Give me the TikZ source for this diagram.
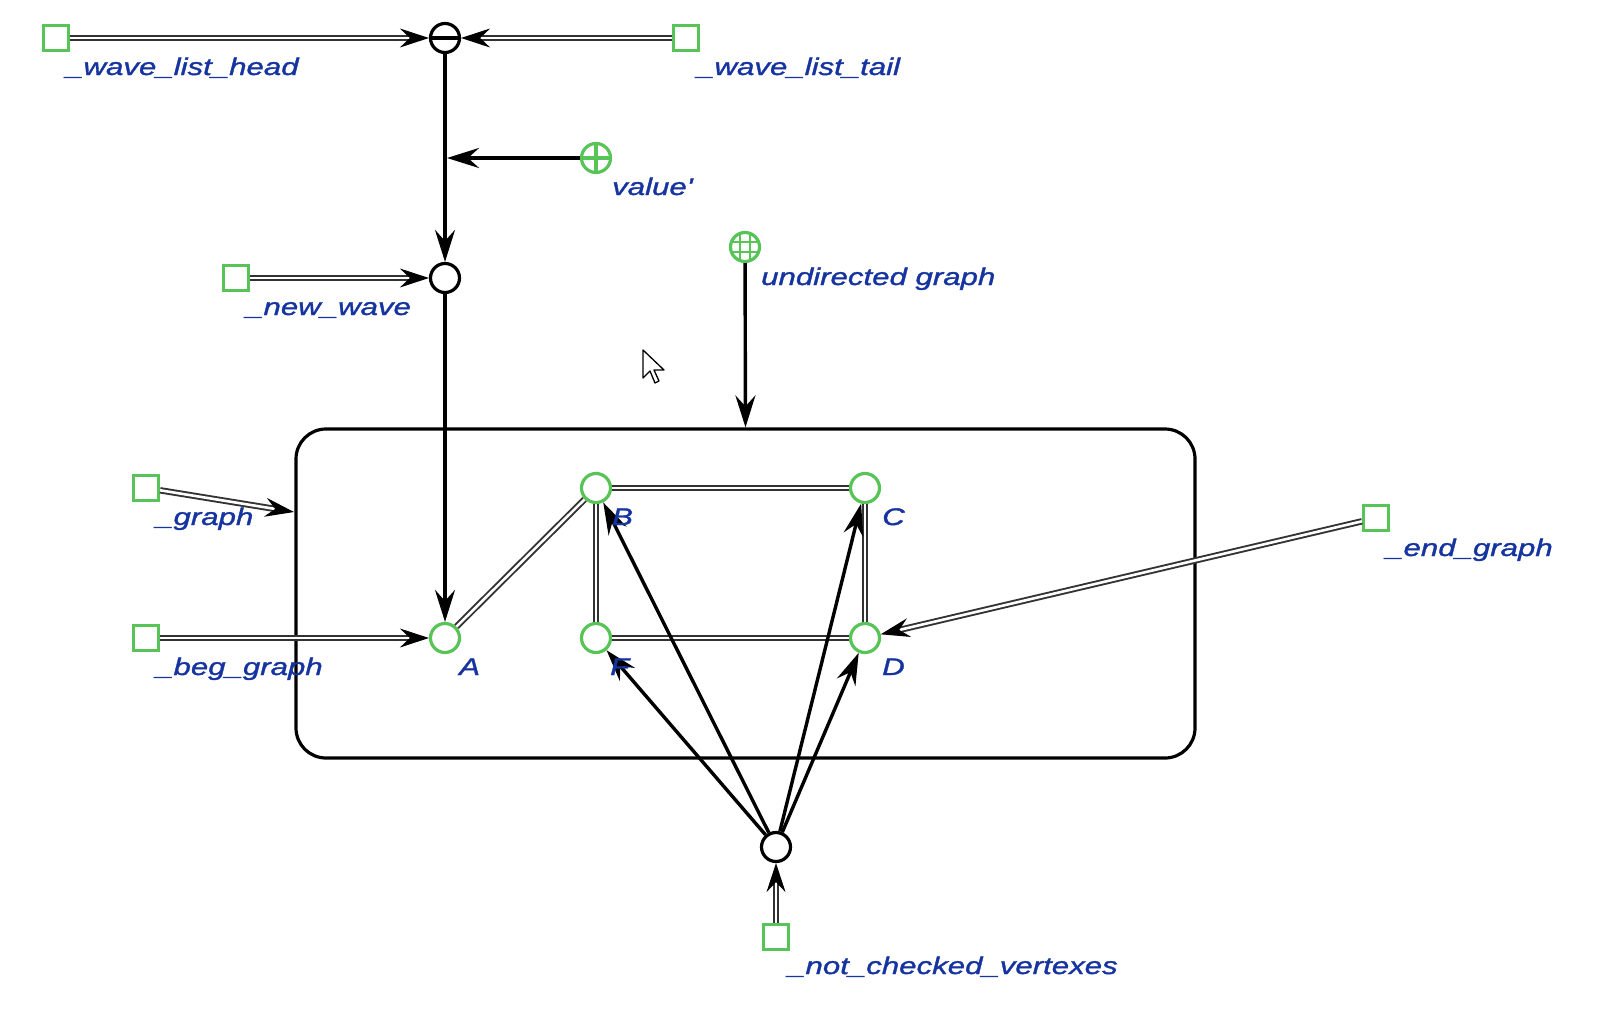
\documentclass[tikz,border=0pt]{standalone}
\usepackage{fontspec}
\setmainfont{Liberation Sans}
\newfontfamily\lblfont[FakeStretch=1.3, FakeBold=1.4]{Liberation Sans}
\usetikzlibrary{arrows.meta, decorations.markings}
\definecolor{vgreen}{RGB}{88,196,88}
\definecolor{lblue}{RGB}{22,52,160}
\definecolor{dgray}{RGB}{50,50,50}
\tikzset{
  sq/.style={draw=vgreen, line width=3.2pt, fill=white, minimum size=25pt, inner sep=0pt},
  vtx/.style={circle, draw=vgreen, line width=3.2pt, fill=white, minimum size=29pt, inner sep=0pt},
  bvtx/.style={circle, draw=black, line width=3.2pt, fill=white, minimum size=29pt, inner sep=0pt},
  lbl/.style={text=lblue, font=\lblfont\itshape\fontsize{24}{24}\selectfont, anchor=base west, inner sep=0pt},
  arr/.style={draw=black, line width=3.4pt, -{Stealth[length=32pt, width=20pt, inset=11pt]}},
  dbl/.style={draw=dgray, double=white, double distance=2.6pt, line width=1.9pt},
  dblarr/.style={
    postaction={dbl, shorten >=16pt},
    postaction={decorate, decoration={markings,
      mark=at position 1 with {\arrow[black, line width=1pt]{Stealth[length=29pt, width=19pt, inset=10pt]}}}}},
  mark line/.style={line width=3.2pt},
}
\begin{document}
\begin{tikzpicture}[x=1pt, y=-1pt]
\useasboundingbox[fill=white] (0,0) rectangle (1600,1020);

% container box
\node[draw=black, line width=3.2pt, rounded corners=30pt, minimum width=899pt, minimum height=329pt, inner sep=0pt] (box) at (745.5,593.5) {};

% top part
\node[sq] (sqhead) at (56,38) {};
\node[bvtx] (minus) at (445,38) {};
\draw[mark line] ([xshift=-15pt]minus.center) -- ([xshift=15pt]minus.center);
\node[sq] (sqtail) at (686,38) {};
\node[vtx] (plus) at (596,158) {};
\draw[mark line, draw=vgreen] ([xshift=-15pt]plus.center) -- ([xshift=15pt]plus.center);
\draw[mark line, draw=vgreen] ([yshift=-15pt]plus.center) -- ([yshift=15pt]plus.center);
\coordinate (j1) at (447,158);
\node[bvtx] (nw) at (445,278) {};
\node[sq] (sqnew) at (236,278) {};
\node[vtx] (grid) at (745,247) {};
\foreach \d in {-5,5} {
  \draw[line width=2.4pt, draw=vgreen] ([shift={(\d pt,-14pt)}]grid.center) -- ([shift={(\d pt,14pt)}]grid.center);
  \draw[line width=2.4pt, draw=vgreen] ([shift={(-14pt,\d pt)}]grid.center) -- ([shift={(14pt,\d pt)}]grid.center);
}

% graph vertices
\node[vtx] (A) at (445,638) {};
\node[vtx] (B) at (596,488) {};
\node[vtx] (C) at (865,488) {};
\node[vtx] (F) at (596,638) {};
\node[vtx] (D) at (865,638) {};
\node[sq] (sqgraph) at (146,488) {};
\coordinate (gin) at (294,512);
\node[sq] (sqbeg) at (146,638) {};
\node[sq] (sqend) at (1376,518) {};
\node[bvtx] (bot) at (776,847) {};
\node[sq] (sqnc) at (776,937) {};

% connectors
\path[dblarr] (sqhead) -- (minus);
\path[dblarr] (sqtail) -- (minus);
\draw[arr] (minus) -- (nw);
\draw[arr] (plus) -- (j1);
\path[dblarr] (sqnew) -- (nw);
\draw[arr] (nw) -- (A);
\draw[arr] (grid) -- (box.north);
\path[dblarr] (sqgraph) -- (gin);
\path[dblarr] (sqbeg) -- (A);
\draw[dbl] (A) -- (B);
\draw[dbl] (B) -- (C);
\draw[dbl] (B) -- (F);
\draw[dbl] (C) -- (D);
\draw[dbl] (F) -- (D);
\path[dblarr] (sqend) -- (D);
\draw[arr] (bot) -- (F);
\draw[arr] (bot) -- (B);
\draw[arr] (bot) -- (C);
\draw[arr] (bot) -- (D);
\path[dblarr] (sqnc) -- (bot);

% labels
\node[lbl] (l1) at (66,75) {\_wave\_list\_head};
\node[lbl] (l2) at (697,75) {\_wave\_list\_tail};
\node[lbl] (l3) at (612,195) {value'};
\node[lbl] (l4) at (246,315) {\_new\_wave};
\node[lbl] (l5) at (761,285) {undirected graph};
\node[lbl] (l6) at (156,525) {\_graph};
\node[lbl] (l7) at (156,675) {\_beg\_graph};
\node[lbl] (l8) at (459,675) {A};
\node[lbl] (l9) at (612,525) {B};
\node[lbl] (l10) at (882,525) {C};
\node[lbl] (l11) at (610,675) {F};
\node[lbl] (l12) at (882,675) {D};
\node[lbl] (l13) at (1386,556) {\_end\_graph};
\node[lbl] (l14) at (788,974) {\_not\_checked\_vertexes};

% mouse pointer
\draw[fill=white, line width=1.3pt, line join=round] (643,350) -- ++(0,28) -- ++(7,-7) -- ++(5,12) -- ++(4,-2) -- ++(-5,-11) -- ++(10,0) -- cycle;
\end{tikzpicture}
\end{document}
